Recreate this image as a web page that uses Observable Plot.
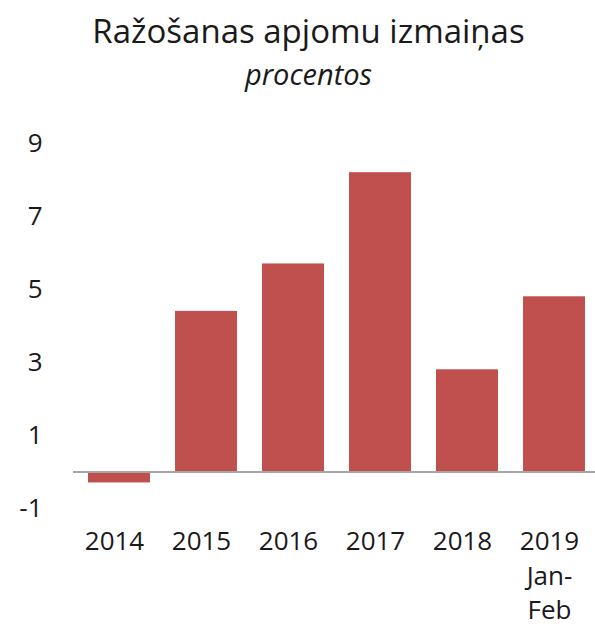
<!DOCTYPE html>
<html>
<head>
<meta charset="utf-8">
<script src="https://cdn.jsdelivr.net/npm/d3@7"></script>
<script src="https://cdn.jsdelivr.net/npm/@observablehq/plot@0.6"></script>
<style>
  body { margin: 0; background: #fff; }
  #wrap { position: relative; width: 595px; height: 632px; overflow: hidden; font-family: "Open Sans", sans-serif; color: #1a1a1a; }
  #title { position: absolute; left: 22px; right: 0; top: 14px; text-align: center; font-size: 33px; line-height: 33px; }
  #subtitle { position: absolute; left: 22px; right: 0; top: 59px; text-align: center; font-size: 29px; line-height: 29px; font-style: italic; }
  #chart { position: absolute; left: 0; top: 100px; }
</style>
</head>
<body>
<div id="wrap">
  <div id="title">Ražošanas apjomu izmaiņas</div>
  <div id="subtitle">procentos</div>
  <div id="chart"></div>
</div>
<script>
const categories = ["2014", "2015", "2016", "2017", "2018", "2019"];
const categoryLabels = ["2014", "2015", "2016", "2017", "2018", "2019\nJan-\nFeb"];
const values = [-0.3, 4.4, 5.7, 8.2, 2.8, 4.8];
const yTicks = [-1, 1, 3, 5, 7, 9];

const data = categories.map((c, i) => ({category: c, value: values[i]}));
const labelOf = new Map(categories.map((c, i) => [c, categoryLabels[i]]));

const chart = Plot.plot({
  width: 595,
  height: 532,
  marginLeft: 73,
  marginRight: -5,
  marginTop: 43,
  marginBottom: 124,
  style: {fontFamily: "Open Sans, sans-serif", fontSize: "26px", color: "#1a1a1a", background: "transparent", overflow: "visible"},
  x: {domain: categories, paddingInner: 0.287, paddingOuter: 0.148, label: null},
  y: {domain: [-1, 9], label: null},
  marks: [
    Plot.barY(data, {x: "category", y: "value", fill: "#C0504D"}),
    Plot.ruleY([0], {stroke: "#a6a6a6", strokeWidth: 2}),
    Plot.axisY({ticks: yTicks, tickSize: 0, tickPadding: 31, label: null, fontSize: 26, tickFormat: d => String(d)}),
    Plot.axisX({tickSize: 0, tickPadding: 17, dx: -5, label: null, tickFormat: d => labelOf.get(d), lineHeight: 1.33, fontSize: 26})
  ]
});
document.getElementById("chart").appendChild(chart);
</script>
</body>
</html>
